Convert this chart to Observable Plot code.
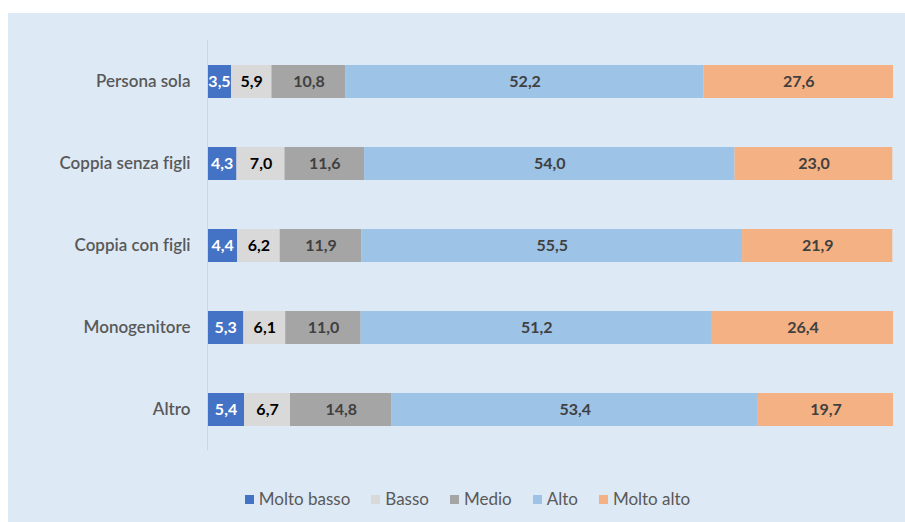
<!DOCTYPE html>
<html>
<head>
<meta charset="utf-8">
<script src="https://cdn.jsdelivr.net/npm/d3@7"></script>
<script src="https://cdn.jsdelivr.net/npm/@observablehq/plot@0.6"></script>
<style>
  html, body { margin: 0; padding: 0; background: #ffffff; }
  #panel { position: absolute; left: 8px; top: 13px; width: 897px; height: 509px; background: #dde9f5; }
  #panel, #panel svg, #panel text { font-variant-ligatures: none; font-feature-settings: "liga" 0, "clig" 0; }
  #legend { display: flex; justify-content: center; gap: 21px; padding-left: 22px; margin-top: 17px;
            font-family: Lato, "Open Sans", sans-serif; font-size: 17px; color: #595959; line-height: 18px; }
  #legend span.item { display: inline-flex; align-items: center; gap: 5px; }
  #legend span.sw { display: inline-block; width: 9px; height: 9px; }
</style>
</head>
<body>
<div id="panel"><div id="chart"></div><div id="legend"></div></div>
<script>
const categories = ["Persona sola", "Coppia senza figli", "Coppia con figli", "Monogenitore", "Altro"];
const series = ["Molto basso", "Basso", "Medio", "Alto", "Molto alto"];
const moltoBasso = [3.5, 4.3, 4.4, 5.3, 5.4];
const basso      = [5.9, 7.0, 6.2, 6.1, 6.7];
const medio      = [10.8, 11.6, 11.9, 11.0, 14.8];
const alto       = [52.2, 54.0, 55.5, 51.2, 53.4];
const moltoAlto  = [27.6, 23.0, 21.9, 26.4, 19.7];
const colors = ["#4472c4", "#d9d9d9", "#a5a5a5", "#9dc3e6", "#f4b183"];
const labelColors = ["#ffffff", "#000000", "#404040", "#404040", "#404040"];

const seriesValues = [moltoBasso, basso, medio, alto, moltoAlto];
const data = [];
categories.forEach((c, i) => {
  series.forEach((s, j) => {
    data.push({cat: c, serie: s, value: seriesValues[j][i], idx: j});
  });
});
const fmt = v => v.toFixed(1).replace(".", ",");

const chart = Plot.plot({
  width: 897,
  height: 460,
  marginLeft: 199,
  marginRight: 12,
  marginTop: 27,
  marginBottom: 23,
  style: {background: "transparent", fontFamily: "Lato, 'Open Sans', sans-serif"},
  x: {domain: [0, 100], axis: null},
  y: {domain: categories, paddingInner: 0.6, paddingOuter: 0.3, label: null, axis: null},
  color: {domain: series, range: colors},
  marks: [
    Plot.axisY({tickSize: 0, tickPadding: 17, fontSize: 17, fontWeight: 600, fill: "#595959", label: null}),
    Plot.barX(data, Plot.stackX({x: "value", y: "cat", fill: "serie", order: series})),
    Plot.textX(data, Plot.stackX({x: "value", y: "cat", z: "serie", order: series,
      text: d => fmt(d.value), fill: d => labelColors[d.idx],
      fontSize: 16, fontWeight: "bold"})),
    Plot.ruleX([0], {stroke: "#cfd6de", strokeWidth: 1})
  ]
});
document.getElementById("chart").appendChild(chart);

const legend = document.getElementById("legend");
series.forEach((s, j) => {
  const item = document.createElement("span");
  item.className = "item";
  const sw = document.createElement("span");
  sw.className = "sw";
  sw.style.background = colors[j];
  item.appendChild(sw);
  item.appendChild(document.createTextNode(s));
  legend.appendChild(item);
});
</script>
</body>
</html>
